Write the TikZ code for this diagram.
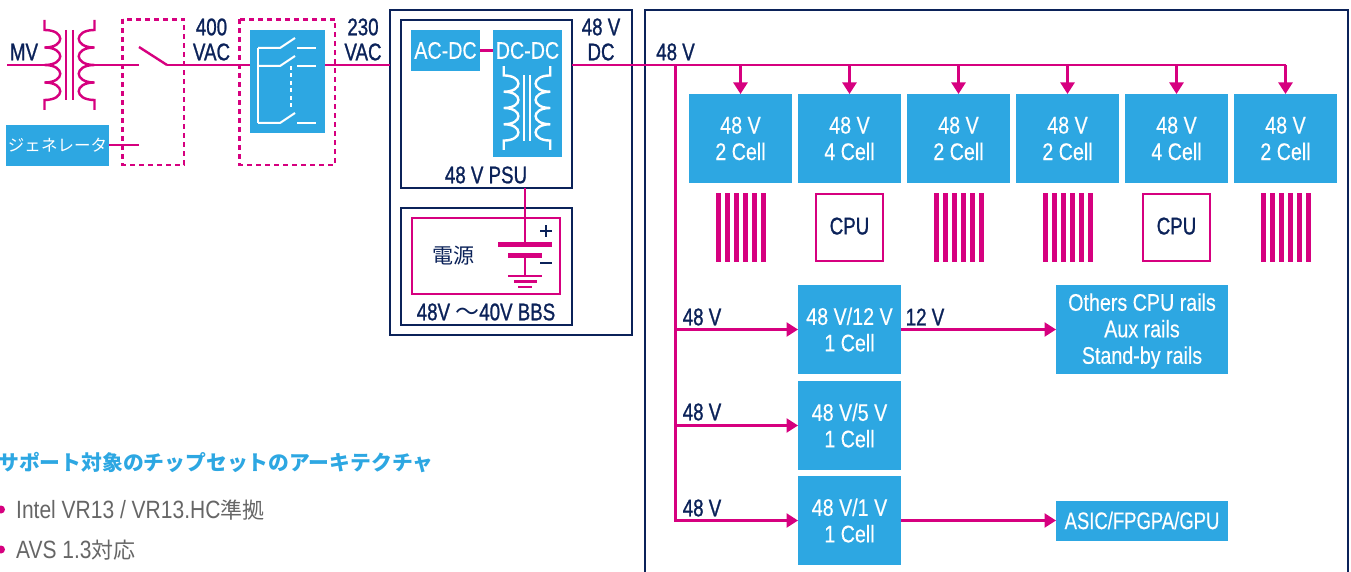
\documentclass[tikz,border=0pt]{standalone}
\usepackage{fontspec}
\setmainfont[FakeStretch=0.82,FakeBold=0.3]{Liberation Sans}
\newfontfamily\navyfont[FakeStretch=0.78,FakeBold=1]{Liberation Sans}
\newfontfamily\notefont[FakeStretch=0.84]{Liberation Sans}
\newfontfamily\capsfont[FakeStretch=0.77,FakeBold=0.3]{Liberation Sans}
\newfontfamily\cjk{Noto Sans CJK JP}
\usetikzlibrary{arrows.meta}
\definecolor{wirepink}{HTML}{D6007F}
\definecolor{cellblue}{HTML}{2DA7E2}
\definecolor{framenavy}{HTML}{0B2259}
\definecolor{notegray}{HTML}{666666}
\tikzset{
  navytext/.style={font=\navyfont\fontsize{24}{25}\selectfont, text=framenavy, align=center, inner sep=0pt},
  bluebox/.style={fill=cellblue, font=\fontsize{24}{26.5}\selectfont, text=white, align=center,
    inner sep=0pt, outer sep=0pt},
  cellbox/.style={bluebox, minimum width=103pt, minimum height=89pt},
  navyframe/.style={draw=framenavy, line width=2.4pt, inner sep=0pt, outer sep=0pt},
  pinkframe/.style={draw=wirepink, line width=2.4pt, inner sep=0pt, outer sep=0pt},
  dashframe/.style={draw=wirepink, line width=2.4pt, dash pattern=on 5pt off 4pt},
  wire/.style={draw=wirepink, line width=2.4pt},
  wirearrow/.style={wire, -{Triangle[length=11.5pt,width=14pt]}},
  whiteline/.style={draw=white, line width=2pt},
  notetext/.style={font=\notefont\fontsize{25}{27}\selectfont, text=notegray, anchor=west, inner sep=0pt}
}
\newcommand{\coilpair}[4]{%
  \begin{scope}[shift={(#1,#2)}, scale=#4]
    \foreach \s in {-1,1} {
      \draw[draw=#3, line width=2.4pt, xscale=\s] (25,-45) -- (25,-35)
        \foreach \y in {-35,-17.5,0,17.5} { .. controls (4,\y) and (4,\y+17.5) .. (25,\y+17.5) }
        -- (25,45);
      \draw[draw=#3, line width=2.4pt] (3.5*\s,-35) -- (3.5*\s,35);
    }
  \end{scope}}

\begin{document}
\begin{tikzpicture}[x=1pt,y=-1pt]
  \useasboundingbox (0,0) rectangle (1351,572);

  % left part
  \coilpair{69.5}{65}{wirepink}{1}
  \coordinate (mvin) at (7,65);
  \coordinate (coilL) at (45,65);
  \coordinate (coilR) at (94,65);
  \coordinate (brkin) at (139,65);
  \coordinate (brkup) at (139,47);
  \coordinate (brkpiv) at (167,65);
  \coordinate (genend) at (139,145);
  \node[bluebox, font=\cjk\fontsize{16.5}{20}\selectfont, minimum width=103pt, minimum height=41pt] (gen) at (57.5,145.5) {ジェネレータ};
  \node[navytext, anchor=center] (mvlab) at (24,52) {MV};
  \draw[dashframe] (122.5,19.5) rectangle (184,165);
  \draw[dashframe] (239.5,19.5) rectangle (335,165);
  \node[bluebox, minimum width=75pt, minimum height=103pt] (ats) at (287.5,81.5) {};
  \node[navytext] (lab400) at (211.5,39.5) {400\\VAC};
  \node[navytext] (lab230) at (363,39.5) {230\\VAC};
  \draw[wire] (mvin) -- (coilL);
  \draw[wire] (coilR) -- (brkin);
  \draw[wire] (brkup) -- (brkpiv);
  \draw[wire] (gen.east |- genend) -- (genend);

  % transfer switch
  \foreach \y in {48,66,123} {
    \draw[whiteline] (258,\y) -- (280,\y) -- (295,\y-10);
    \draw[whiteline] (297,\y) -- (316,\y);
  }
  \draw[whiteline] (258,48) -- (258,123);
  \draw[whiteline, dash pattern=on 4pt off 3.5pt] (290.5,66) -- (290.5,110);

  % PSU and battery
  \node[navyframe, minimum width=242pt, minimum height=325pt] (psuframe) at (511,172.5) {};
  \node[navyframe, minimum width=171pt, minimum height=168pt] (psu) at (486.5,104) {};
  \node[navyframe, minimum width=171pt, minimum height=117pt] (bbs) at (486.5,266.5) {};
  \node[pinkframe, minimum width=148pt, minimum height=76pt] (pack) at (486,256) {};
  \node[bluebox, minimum width=69pt, minimum height=41pt] (acdc) at (445.5,50.5) {AC-DC};
  \node[bluebox, minimum width=69pt, minimum height=127pt] (dcdc) at (527.5,93.5) {};
  \node[bluebox, fill=none] (dcdclab) at (527.5,50.5) {DC-DC};
  \coilpair{527}{108}{white}{0.93}
  \node[navytext] (psulab) at (486,175) {48 V PSU};
  \node[navytext] (bbslab) at (486,312) {48V {\cjk～}40V BBS};
  \node[navytext, font=\cjk\fontsize{21}{22}\selectfont] (packlab) at (453,256) {電源};
  \node[navytext] (dclab) at (601,39.5) {48 V\\DC};
  \draw[wire] (acdc.east) -- (acdc.east -| dcdc.west);

  \coordinate (batplus) at (525,244);
  \coordinate (batminus) at (525,256);
  \coordinate (gnd) at (525,276);
  \draw[wire] (psu.south -| batplus) -- (batplus);
  \draw[wire, line width=5pt] (498,244) -- (552,244);
  \draw[wire, line width=5pt] (508,255.5) -- (542,255.5);
  \draw[wire] (batminus) -- (gnd);
  \draw[wire] (508,276) -- (542,276);
  \draw[wire] (514,281.5) -- (537,281.5);
  \draw[wire] (518,287) -- (532,287);
  \draw[draw=framenavy, line width=2.4pt] (540,231) -- (552,231) (546,225) -- (546,237);
  \draw[draw=framenavy, line width=2.4pt] (540,263) -- (552,263);

  % load side
  \draw[navyframe] (645,572) -- (645,10) -- (1348,10) -- (1348,572);
  \node[navytext] (buslab) at (675.5,52) {48 V};
  \coordinate (busend) at (1285.5,65);
  \coordinate (railtop) at (675.5,65);
  \coordinate (railend) at (675.5,521.5);
  \draw[wire] (ats.east |- busend) -- (busend -| psuframe.west);
  \draw[wire] (brkpiv) -- (brkpiv -| ats.west);
  \draw[wire] (psu.east |- busend) -- (busend);
  \draw[wire] (railtop) -- (railend);

  \foreach \n/\x/\lab in {1/740.5/2,2/849.5/4,3/958.5/2,4/1067.5/2,5/1176.5/4,6/1285.5/2} {
    \node[cellbox] (cell\n) at (\x,138.5) {48 V\\\lab{} Cell};
    \draw[wirearrow] (cell\n.north |- busend) -- (cell\n.north);
  }
  \foreach \x in {740.5,958.5,1067.5,1285.5} {
    \foreach \d in {-22.5,-13.5,-4.5,4.5,13.5,22.5} {
      \draw[wire, line width=5pt] (\x+\d,193.5) -- (\x+\d,261.5);
    }
  }
  \foreach \n/\x in {1/849.5,2/1176.5} {
    \node[navytext, pinkframe, text depth=3pt, minimum width=67pt, minimum height=67pt] (cpu\n) at (\x,227.5) {CPU};
  }

  \node[cellbox] (conva) at (849.5,329.5) {48 V/12 V\\1 Cell};
  \node[cellbox] (convb) at (849.5,425.5) {48 V/5 V\\1 Cell};
  \node[cellbox] (convc) at (849.5,520.5) {48 V/1 V\\1 Cell};
  \node[bluebox, minimum width=172pt, minimum height=89pt] (rails) at (1142,329.5) {\rule{0pt}{20.5pt}Others CPU rails\\Aux rails\\Stand-by rails};
  \node[bluebox, font=\capsfont\fontsize{24}{26.5}\selectfont, minimum width=172pt, minimum height=40pt] (asic) at (1142,520.5) {ASIC/FPGPA/GPU};
  \foreach \n/\y in {conva/317,convb/412,convc/508} {
    \draw[wirearrow] (railtop |- \n.west) -- (\n.west);
    \node[navytext] (lab\n) at (702,\y) {48 V};
  }
  \node[navytext] (labtwelve) at (925,317) {12 V};
  \draw[wirearrow] (conva.east) -- (rails.west);
  \draw[wirearrow] (convc.east) -- (asic.west);

  % note text
  \node[font=\cjk\bfseries\fontsize{20.8}{22}\selectfont, text=cellblue, anchor=west, inner sep=0pt] (notehead) at (-2,463) {サポート対象のチップセットのアーキテクチャ};
  \fill[wirepink] (1,509.5) circle (4pt);
  \fill[wirepink] (1,549.5) circle (4pt);
  \node[notetext] (noteone) at (16,510) {Intel VR13 / VR13.HC{\cjk\fontsize{22}{22}\selectfont 準拠}};
  \node[notetext] (notetwo) at (16,550) {AVS 1.3{\cjk\fontsize{22}{22}\selectfont 対応}};
\end{tikzpicture}
\end{document}
